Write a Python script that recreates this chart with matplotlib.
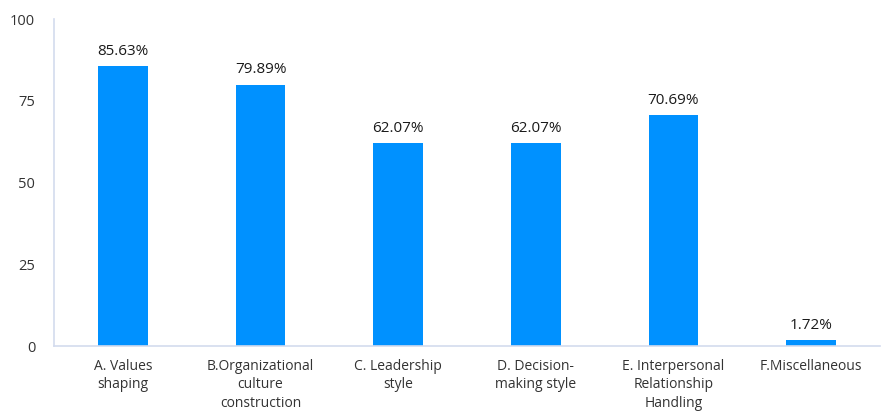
import matplotlib
matplotlib.use("Agg")
import matplotlib.pyplot as plt

categories = ["A. Values\nshaping", "B.Organizational\nculture\nconstruction",
              "C. Leadership\nstyle", "D. Decision-\nmaking style",
              "E. Interpersonal\nRelationship\nHandling", "F.Miscellaneous"]
values = [85.63, 79.89, 62.07, 62.07, 70.69, 1.72]
yticks = [0, 25, 50, 75, 100]

plt.rcParams['font.family'] = ['Open Sans', 'DejaVu Sans']

fig = plt.figure(figsize=(8.82, 4.13), dpi=100)
ax = fig.add_axes([54/882, 1-346/413, 1-54/882-2/882, (346-19.3)/413])
x = list(range(len(categories)))
bars = ax.bar(x, values, width=0.36, color="#0091FF", zorder=2)
for xi, v in zip(x, values):
    ax.text(xi, v + 2.3, f"{v:.2f}%", ha="center", va="bottom", fontsize=11, color="#1a1a1a")

ax.set_xlim(-0.5, len(categories) - 0.5)
ax.set_ylim(0, 100)
ax.set_yticks(yticks)
ax.set_yticklabels([str(t) for t in yticks], fontsize=10.5, color="#333333")
ax.set_xticks(x)
ax.set_xticklabels(categories, fontsize=10, color="#333333", linespacing=1.35, va="top")
ax.tick_params(axis="y", length=0, pad=13.5)
ax.tick_params(axis="x", length=0, pad=9)
for s in ["top", "right"]:
    ax.spines[s].set_visible(False)
for s in ["left", "bottom"]:
    ax.spines[s].set_color("#D3DBEE")
    ax.spines[s].set_linewidth(1.2)
fig.savefig("out.png", dpi=100)
